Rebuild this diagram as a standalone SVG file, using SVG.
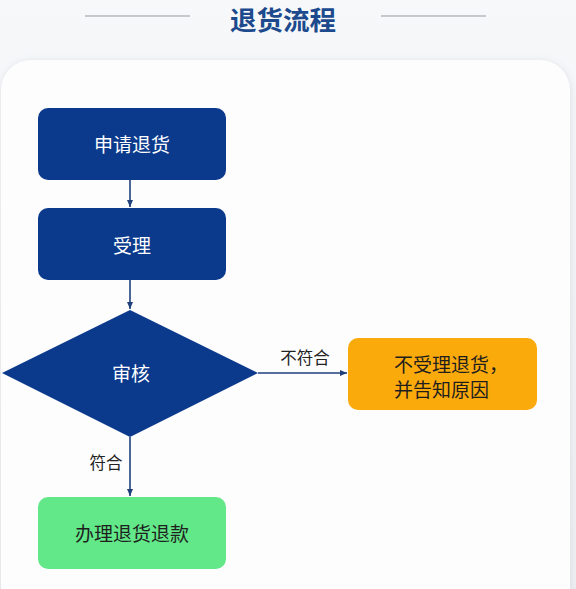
<svg xmlns="http://www.w3.org/2000/svg" width="576" height="589" viewBox="0 0 576 589">
<defs>
<linearGradient id="bg" x1="0" y1="0" x2="0" y2="1">
<stop offset="0" stop-color="#f7f8fa"/>
<stop offset="1" stop-color="#eeeff2"/>
</linearGradient>
<filter id="sh" x="-10%" y="-10%" width="120%" height="120%">
<feGaussianBlur stdDeviation="4"/>
</filter>
<marker id="arr" markerWidth="8" markerHeight="8" refX="7" refY="4" orient="auto" markerUnits="userSpaceOnUse">
<path d="M0,1 L7,4 L0,7 Z" fill="#1f3f7a"/>
</marker>
<style>
.nav{fill:#0b3a8c}
.wt{fill:#ffffff;font-family:"Noto Sans CJK SC","Noto Sans",sans-serif;font-size:19px;text-anchor:middle;dominant-baseline:central}
.dk{fill:#1e1e1e;font-family:"Noto Sans CJK SC","Noto Sans",sans-serif;font-size:19px;dominant-baseline:central}
.lb{fill:#222222;font-family:"Noto Sans CJK SC","Noto Sans",sans-serif;font-size:16.5px;text-anchor:middle;dominant-baseline:central}
.cn{stroke:#1f3f7a;stroke-width:1.6;fill:none;marker-end:url(#arr)}
</style>
</defs>
<rect x="0" y="0" width="576" height="589" fill="url(#bg)"/>
<g id="title">
<line x1="85" y1="16" x2="190" y2="16" stroke="#b5b8bd" stroke-width="1.5"/>
<line x1="381" y1="16" x2="486" y2="16" stroke="#b5b8bd" stroke-width="1.5"/>
<text x="283" y="18" font-family="Noto Sans CJK SC, sans-serif" font-size="26.5" font-weight="bold" fill="#1c4a8c" text-anchor="middle" dominant-baseline="central">退货流程</text>
</g>
<g id="card">
<rect x="2" y="62" width="568" height="560" rx="30" fill="#d8dadf" filter="url(#sh)"/>
<rect x="1" y="60" width="569" height="560" rx="30" fill="#fdfdfe"/>
</g>
<g id="connectors">
<line class="cn" x1="130" y1="180" x2="130" y2="207"/>
<line class="cn" x1="130" y1="280" x2="130" y2="309"/>
<line class="cn" x1="258" y1="373" x2="347" y2="373"/>
<line class="cn" x1="130" y1="437" x2="130" y2="496"/>
<text class="lb" x="305" y="357">不符合</text>
<text class="lb" x="106" y="462">符合</text>
</g>
<g id="n1">
<rect class="nav" x="38" y="108" width="188" height="72" rx="10"/>
<text class="wt" x="132" y="143">申请退货</text>
</g>
<g id="n2">
<rect class="nav" x="38" y="208" width="188" height="72" rx="10"/>
<text class="wt" x="132" y="244">受理</text>
</g>
<g id="n3">
<polygon class="nav" points="2,373 130,310 258,373 130,437"/>
<text class="wt" x="131" y="372">审核</text>
</g>
<g id="n4">
<rect x="348" y="338" width="189" height="72" rx="10" fill="#fbaa0c"/>
<text class="dk" x="394" y="363">不受理退货，</text>
<text class="dk" x="394" y="388">并告知原因</text>
</g>
<g id="n5">
<rect x="38" y="497" width="188" height="72" rx="10" fill="#62e888"/>
<text class="dk" x="132" y="532" text-anchor="middle" fill="#153515">办理退货退款</text>
</g>
</svg>
